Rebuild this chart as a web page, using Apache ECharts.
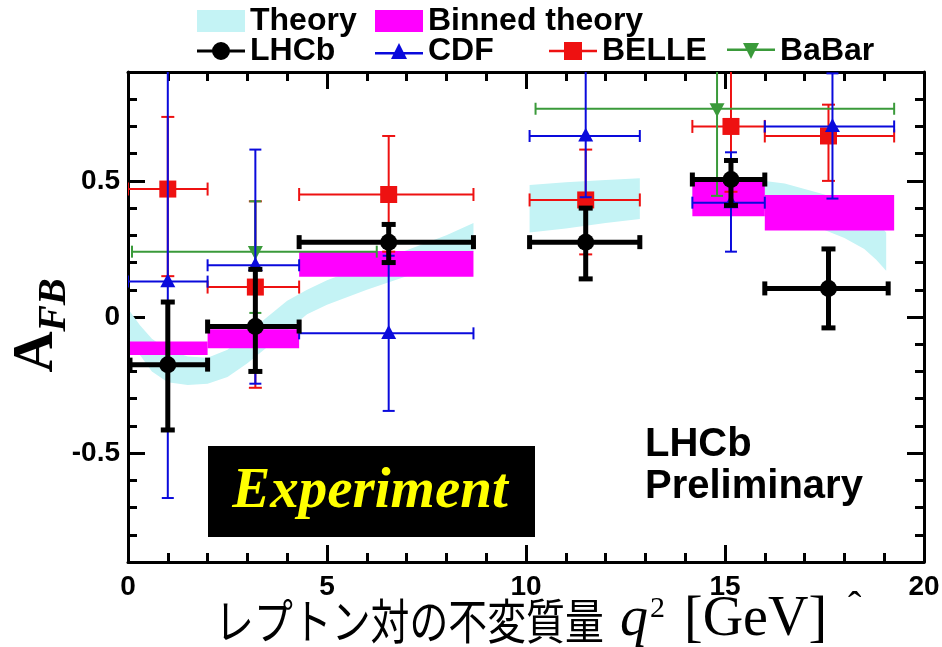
<!DOCTYPE html>
<html>
<head>
<meta charset="utf-8">
<script src="https://cdn.jsdelivr.net/npm/echarts@6/dist/echarts.min.js"></script>
<style>
  html, body { margin: 0; padding: 0; background: #ffffff; }
  #chart { width: 942px; height: 647px; }
</style>
</head>
<body>
<div id="chart"></div>
<script>
// ---- axes ----
const xRange = [0, 20];
const yRange = [-0.9, 0.9];
const xTicks = [0, 5, 10, 15, 20];
const yTicks = [-0.5, 0, 0.5];

// ---- LHCb (q2 centre, A_FB, bin edges, error band) ----
const lhcbX   = [1.0, 3.2, 6.55, 11.5, 15.15, 17.6];
const lhcbY   = [-0.175, -0.035, 0.275, 0.275, 0.505, 0.105];
const lhcbXLo = [0.05, 2.0, 4.3, 10.09, 14.18, 16.0];
const lhcbXHi = [2.0, 4.3, 8.68, 12.86, 16.0, 19.1];
const lhcbYLo = [-0.415, -0.2, 0.2, 0.14, 0.41, -0.04];
const lhcbYHi = [0.055, 0.175, 0.34, 0.4, 0.575, 0.25];

// ---- CDF ----
const cdfX   = [1.0, 3.2, 6.55, 11.5, 15.15, 17.7];
const cdfY   = [0.13, 0.19, -0.06, 0.665, 0.42, 0.70];
const cdfXLo = [0, 2.0, 4.3, 10.09, 14.18, 16.0];
const cdfXHi = [2.0, 4.3, 8.68, 12.86, 16.0, 19.25];
const cdfYLo = [-0.665, -0.245, -0.345, 0.44, 0.24, 0.435];
const cdfYHi = [0.95, 0.615, 0.225, 0.95, 0.605, 0.895];

// ---- BELLE ----
const belleX   = [1.0, 3.2, 6.55, 11.5, 15.15, 17.6];
const belleY   = [0.47, 0.11, 0.45, 0.43, 0.70, 0.665];
const belleXLo = [0, 2.0, 4.3, 10.09, 14.18, 16.0];
const belleXHi = [2.0, 4.3, 8.68, 12.86, 16.0, 19.25];
const belleYLo = [0.15, -0.26, 0.24, 0.23, 0.46, 0.5];
const belleYHi = [0.735, 0.425, 0.665, 0.615, 0.95, 0.78];

// ---- BaBar ----
const babarX   = [3.2, 14.8];
const babarY   = [0.24, 0.765];
const babarXLo = [0.1, 10.24];
const babarXHi = [6.25, 19.25];
const babarYLo = [0.015, 0.445];
const babarYHi = [0.425, 1.05];

// ---- binned SM prediction ----
const binXLo = [0.05, 2.0, 4.3, 14.18, 16.0];
const binXHi = [2.0, 4.3, 8.68, 16.0, 19.25];
const binYLo = [-0.14, -0.115, 0.148, 0.37, 0.318];
const binYHi = [-0.09, -0.045, 0.242, 0.50, 0.448];

// ---- SM theory band, three q2 regions ----
const bandAX  = [0.05, 0.3, 0.6, 1.0, 1.5, 2.0, 2.5, 3.0, 3.5, 4.0, 4.5, 5.0, 6.0, 7.0, 8.0, 8.68];
const bandAHi = [0.02, -0.03, -0.08, -0.12, -0.145, -0.15, -0.12, -0.06, 0.0, 0.06, 0.1, 0.135, 0.19, 0.245, 0.3, 0.345];
const bandALo = [-0.09, -0.14, -0.2, -0.24, -0.25, -0.245, -0.22, -0.17, -0.11, -0.05, 0.01, 0.045, 0.1, 0.15, 0.2, 0.24];
const bandBX  = [10.09, 11.0, 12.0, 12.86];
const bandBHi = [0.485, 0.495, 0.503, 0.51];
const bandBLo = [0.31, 0.325, 0.345, 0.36];
const bandCX  = [14.18, 15.0, 16.0, 16.5, 17.0, 17.5, 18.0, 18.5, 18.8, 19.05];
const bandCHi = [0.50, 0.51, 0.50, 0.49, 0.47, 0.45, 0.42, 0.38, 0.35, 0.31];
const bandCLo = [0.39, 0.40, 0.39, 0.37, 0.35, 0.32, 0.29, 0.25, 0.21, 0.17];

const bandSegments = [[bandAX, bandALo, bandAHi], [bandBX, bandBLo, bandBHi], [bandCX, bandCLo, bandCHi]];

const COL = {
  theory: '#c4f3f5',
  binned: '#ff00ff',
  lhcb: '#000000',
  cdf: '#0a0adc',
  belle: '#ee1111',
  babar: '#3a9a3a'
};

const SANS = '"Liberation Sans", Arial, sans-serif';
const SERIF = '"Liberation Serif", "DejaVu Serif", serif';
const CJK = '"Noto Sans CJK JP", sans-serif';

function toRows(xs, ys, xlo, xhi, ylo, yhi) {
  return xs.map((x, i) => [x, ys[i], xlo[i], xhi[i], ylo[i], yhi[i]]);
}

function marker(kind, c, s, color) {
  const [cx, cy] = c;
  if (kind === 'circle') {
    return { type: 'circle', shape: { cx, cy, r: s }, style: { fill: color } };
  }
  if (kind === 'square') {
    return { type: 'rect', shape: { x: cx - s, y: cy - s, width: 2 * s, height: 2 * s }, style: { fill: color } };
  }
  if (kind === 'up') {
    return { type: 'polygon', shape: { points: [[cx, cy - s * 1.1], [cx + s, cy + s * 0.75], [cx - s, cy + s * 0.75]] }, style: { fill: color } };
  }
  return { type: 'polygon', shape: { points: [[cx - s, cy - s * 0.75], [cx + s, cy - s * 0.75], [cx, cy + s * 1.1]] }, style: { fill: color } };
}

function errorBarRenderer(st) {
  return function (params, api) {
    const x = api.value(0), y = api.value(1);
    const c = api.coord([x, y]);
    const pL = api.coord([api.value(2), y]);
    const pR = api.coord([api.value(3), y]);
    const pB = api.coord([x, api.value(4)]);
    const pT = api.coord([x, api.value(5)]);
    const ls = { stroke: st.color, lineWidth: st.lineWidth };
    const h = st.cap / 2;
    const line = (x1, y1, x2, y2) => ({ type: 'line', shape: { x1, y1, x2, y2 }, style: ls });
    return {
      type: 'group',
      children: [
        line(pL[0], c[1], pR[0], c[1]),
        line(c[0], pT[1], c[0], pB[1]),
        line(pL[0], c[1] - h, pL[0], c[1] + h),
        line(pR[0], c[1] - h, pR[0], c[1] + h),
        line(c[0] - h, pT[1], c[0] + h, pT[1]),
        line(c[0] - h, pB[1], c[0] + h, pB[1]),
        marker(st.marker, c, st.size, st.color)
      ]
    };
  };
}

function renderBand(params, api) {
  const seg = bandSegments[api.value(2)];
  const xs = seg[0], lo = seg[1], hi = seg[2];
  const pts = [];
  for (let i = 0; i < xs.length; i++) pts.push(api.coord([xs[i], hi[i]]));
  for (let i = xs.length - 1; i >= 0; i--) pts.push(api.coord([xs[i], lo[i]]));
  return { type: 'polygon', shape: { points: pts }, style: { fill: COL.theory } };
}

function renderBin(params, api) {
  const p0 = api.coord([api.value(0), api.value(3)]);
  const p1 = api.coord([api.value(1), api.value(2)]);
  return { type: 'rect', shape: { x: p0[0], y: p0[1], width: p1[0] - p0[0], height: p1[1] - p0[1] }, style: { fill: COL.binned } };
}

const bandData = bandSegments.map((s, i) => [s[0][0], s[1][0], i]);
const binData = binXLo.map((x, i) => [x, binXHi[i], binYLo[i], binYHi[i]]);

// legend icons: error-bar line with the experiment's marker
const ICON_LHCB  = 'path://M0,7.5L48,7.5L48,10.5L0,10.5Z M33,9A9,9,0,1,1,15,9A9,9,0,1,1,33,9Z';
const ICON_CDF   = 'path://M0,9L48,9L48,11.5L0,11.5Z M24,0L32,16L16,16Z';
const ICON_BELLE = 'path://M0,7.7L48,7.7L48,10.3L0,10.3Z M15,0L33,0L33,18L15,18Z';
const ICON_BABAR = 'path://M0,6.5L48,6.5L48,9L0,9Z M16,1L32,1L24,17Z';

const legendText = { fontSize: 32, fontWeight: 'bold', fontFamily: SANS, color: '#000' };
function oneLegend(left, top, name, icon, color, h) {
  return {
    left, top, padding: 0, itemGap: 0, itemWidth: 48, itemHeight: h,
    selectedMode: false,
    textStyle: legendText,
    data: [{ name, icon, itemStyle: { color } }]
  };
}

const tickStyle = { color: '#000', width: 3 };
function xAxisDef(pos, showLabel) {
  return {
    type: 'value', position: pos, min: xRange[0], max: xRange[1], interval: 5,
    axisLine: { show: true, onZero: false, lineStyle: tickStyle },
    axisTick: { show: true, inside: true, length: 17, lineStyle: tickStyle },
    minorTick: { show: true, splitNumber: 5, length: 9, lineStyle: tickStyle },
    splitLine: { show: false }, minorSplitLine: { show: false },
    axisLabel: {
      show: showLabel, margin: 11, fontSize: 28, fontWeight: 'bold', fontFamily: SANS, color: '#000',
      customValues: xTicks
    }
  };
}
function yMajor(pos, showLabel) {
  return {
    type: 'value', position: pos, min: yRange[0], max: yRange[1], interval: 0.1,
    axisLine: { show: true, onZero: false, lineStyle: tickStyle },
    axisTick: { show: true, inside: true, length: 17, lineStyle: tickStyle, customValues: yTicks },
    splitLine: { show: false },
    axisLabel: {
      show: showLabel, margin: 8, fontSize: 28, fontWeight: 'bold', fontFamily: SANS, color: '#000',
      customValues: yTicks
    }
  };
}
function yMinor(pos) {
  return {
    type: 'value', position: pos, min: yRange[0], max: yRange[1], interval: 0.1,
    axisLine: { show: false, onZero: false },
    axisTick: { show: true, inside: true, length: 9, lineStyle: tickStyle },
    splitLine: { show: false },
    axisLabel: { show: false }
  };
}

const chart = echarts.init(document.getElementById('chart'), null, { renderer: 'canvas' });
chart.setOption({
  animation: false,
  backgroundColor: '#ffffff',
  grid: { left: 128, right: 18, top: 72, bottom: 85, containLabel: false, outerBoundsMode: 'none' },
  legend: [
    oneLegend(197, 5, 'Theory', 'rect', COL.theory, 22),
    oneLegend(375, 5, 'Binned theory', 'rect', COL.binned, 22),
    oneLegend(197, 35, 'LHCb', ICON_LHCB, COL.lhcb, 18),
    oneLegend(375, 35, 'CDF', ICON_CDF, COL.cdf, 18),
    oneLegend(549, 35, 'BELLE', ICON_BELLE, COL.belle, 18),
    oneLegend(727, 35, 'BaBar', ICON_BABAR, COL.babar, 18)
  ],
  xAxis: [xAxisDef('bottom', true), xAxisDef('top', false)],
  yAxis: [yMajor('left', true), yMinor('left'), yMajor('right', false), yMinor('right')],
  series: [
    {
      name: 'Theory', type: 'custom', clip: true, itemStyle: { color: COL.theory },
      renderItem: renderBand, data: bandData, z: 1
    },
    {
      name: 'Binned theory', type: 'custom', clip: true, itemStyle: { color: COL.binned },
      renderItem: renderBin, data: binData, z: 2, encode: { x: [0, 1], y: [2, 3] }
    },
    {
      name: 'BELLE', type: 'custom', clip: true, itemStyle: { color: COL.belle }, z: 3,
      renderItem: errorBarRenderer({ color: COL.belle, lineWidth: 2, cap: 13, marker: 'square', size: 8.5 }),
      data: toRows(belleX, belleY, belleXLo, belleXHi, belleYLo, belleYHi)
    },
    {
      name: 'BaBar', type: 'custom', clip: true, itemStyle: { color: COL.babar }, z: 4,
      renderItem: errorBarRenderer({ color: COL.babar, lineWidth: 2, cap: 12, marker: 'down', size: 7.5 }),
      data: toRows(babarX, babarY, babarXLo, babarXHi, babarYLo, babarYHi)
    },
    {
      name: 'CDF', type: 'custom', clip: true, itemStyle: { color: COL.cdf }, z: 5,
      renderItem: errorBarRenderer({ color: COL.cdf, lineWidth: 2, cap: 12, marker: 'up', size: 7.5 }),
      data: toRows(cdfX, cdfY, cdfXLo, cdfXHi, cdfYLo, cdfYHi)
    },
    {
      name: 'LHCb', type: 'custom', clip: true, itemStyle: { color: COL.lhcb }, z: 6,
      renderItem: errorBarRenderer({ color: COL.lhcb, lineWidth: 5, cap: 14, marker: 'circle', size: 8.5 }),
      data: toRows(lhcbX, lhcbY, lhcbXLo, lhcbXHi, lhcbYLo, lhcbYHi)
    }
  ],
  graphic: [
    // "Experiment" badge
    { type: 'rect', z: 20, shape: { x: 208, y: 446, width: 327, height: 91 }, style: { fill: '#000' } },
    {
      type: 'text', z: 21, x: 370, y: 492,
      style: { text: 'Experiment', font: 'italic bold 57px ' + SERIF, fill: '#ffff00',
               align: 'center', verticalAlign: 'middle', textAlign: 'center', textVerticalAlign: 'middle' }
    },
    // collaboration tag
    {
      type: 'text', z: 21, x: 645, y: 445,
      style: { text: 'LHCb', font: 'bold 40px ' + SANS, fill: '#000',
               align: 'left', verticalAlign: 'middle', textAlign: 'left', textVerticalAlign: 'middle' }
    },
    {
      type: 'text', z: 21, x: 645, y: 487,
      style: { text: 'Preliminary', font: 'bold 40px ' + SANS, fill: '#000',
               align: 'left', verticalAlign: 'middle', textAlign: 'left', textVerticalAlign: 'middle' }
    },
    // y-axis title A_FB
    {
      type: 'text', z: 21, x: 37, y: 352, rotation: Math.PI / 2,
      style: { text: 'A', font: 'bold 57px ' + SERIF, fill: '#000',
               align: 'center', verticalAlign: 'middle', textAlign: 'center', textVerticalAlign: 'middle' }
    },
    {
      type: 'text', z: 21, x: 55, y: 305, rotation: Math.PI / 2,
      style: { text: 'FB', font: 'italic bold 40px ' + SERIF, fill: '#000',
               align: 'center', verticalAlign: 'middle', textAlign: 'center', textVerticalAlign: 'middle' }
    },
    // x-axis title
    {
      type: 'text', z: 21, x: 215, y: 621, scaleX: 0.81,
      style: { text: 'レプトン対の不変質量', font: '48px ' + CJK, fill: '#000',
               align: 'left', verticalAlign: 'middle', textAlign: 'left', textVerticalAlign: 'middle' }
    },
    {
      type: 'text', z: 21, x: 620, y: 620,
      style: { text: 'q', font: 'italic 56px ' + SERIF, fill: '#000',
               align: 'left', verticalAlign: 'middle', textAlign: 'left', textVerticalAlign: 'middle' }
    },
    {
      type: 'text', z: 21, x: 650, y: 609,
      style: { text: '2', font: '30px ' + SERIF, fill: '#000',
               align: 'left', verticalAlign: 'middle', textAlign: 'left', textVerticalAlign: 'middle' }
    },
    {
      type: 'text', z: 21, x: 684, y: 620,
      style: { text: '[GeV]', font: '56px ' + SERIF, fill: '#000',
               align: 'left', verticalAlign: 'middle', textAlign: 'left', textVerticalAlign: 'middle' }
    },
    {
      type: 'text', z: 21, x: 848, y: 608,
      style: { text: 'ˆ', font: '40px ' + SERIF, fill: '#000',
               align: 'left', verticalAlign: 'middle', textAlign: 'left', textVerticalAlign: 'middle' }
    }
  ]
});
</script>
</body>
</html>
